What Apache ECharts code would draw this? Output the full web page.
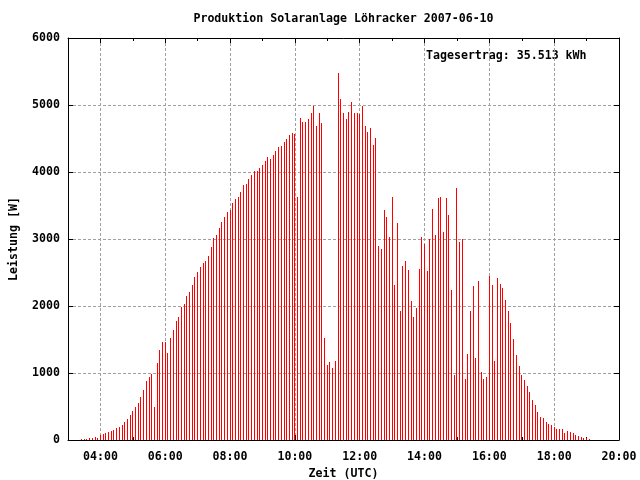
<!DOCTYPE html>
<html>
<head>
<meta charset="utf-8">
<script src="https://cdn.jsdelivr.net/npm/echarts@6/dist/echarts.min.js"></script>
<style>html,body{margin:0;padding:0;background:#fff}#c{width:640px;height:480px}</style>
</head>
<body>
<div id="c"></div>
<script>
const times = [
"03:25","03:30","03:35","03:40","03:45","03:50","03:55",
"04:00","04:05","04:10","04:15","04:20","04:25","04:30","04:35","04:40","04:45","04:50","04:55",
"05:00","05:05","05:10","05:15","05:20","05:25","05:30","05:35","05:40","05:45","05:50","05:55",
"06:00","06:05","06:10","06:15","06:20","06:25","06:30","06:35","06:40","06:45","06:50","06:55",
"07:00","07:05","07:10","07:15","07:20","07:25","07:30","07:35","07:40","07:45","07:50","07:55",
"08:00","08:05","08:10","08:15","08:20","08:25","08:30","08:35","08:40","08:45","08:50","08:55",
"09:00","09:05","09:10","09:15","09:20","09:25","09:30","09:35","09:40","09:45","09:50","09:55",
"10:00","10:05","10:10","10:15","10:20","10:25","10:30","10:35","10:40","10:45","10:50","10:55",
"11:00","11:05","11:10","11:15","11:20","11:25","11:30","11:35","11:40","11:45","11:50","11:55",
"12:00","12:05","12:10","12:15","12:20","12:25","12:30","12:35","12:40","12:45","12:50","12:55",
"13:00","13:05","13:10","13:15","13:20","13:25","13:30","13:35","13:40","13:45","13:50","13:55",
"14:00","14:05","14:10","14:15","14:20","14:25","14:30","14:35","14:40","14:45","14:50","14:55",
"15:00","15:05","15:10","15:15","15:20","15:25","15:30","15:35","15:40","15:45","15:50","15:55",
"16:00","16:01","16:05","16:10","16:15","16:20","16:25","16:30","16:35","16:40","16:45","16:50","16:55",
"17:00","17:05","17:10","17:15","17:20","17:25","17:30","17:35","17:40","17:45","17:50","17:55",
"18:00","18:05","18:10","18:15","18:20","18:25","18:30","18:35","18:40","18:45","18:50","18:55",
"19:00","19:05"
];
const leistung = [
15,15,15,30,35,50,30,
70,90,105,120,135,150,180,195,225,270,315,375,
435,495,555,640,750,880,940,985,497,1154,1343,1463,
1463,1298,1522,1642,1776,1841,1990,2030,2154,2209,2313,2433,
2507,2582,2642,2672,2746,2881,3010,3060,3164,3259,3328,3403,
3433,3537,3597,3627,3701,3806,3821,3895,3955,4015,4015,4060,
4104,4164,4224,4194,4254,4313,4373,4388,4448,4492,4552,4582,
4567,3627,4806,4746,4746,4791,4880,4985,4687,4880,4731,1522,
1119,1164,1075,1179,5478,5090,4880,4791,4895,5045,4880,4880,
4870,4990,4687,4597,4657,4403,4510,2895,2851,3433,3328,3030,
3627,2313,3239,1925,2597,2672,2537,2075,1836,1970,2552,3030,
2925,2522,3000,3448,3060,3612,3627,3104,3612,3358,2239,970,
3761,2955,2995,910,1284,1925,2298,1224,2373,1015,910,940,
925,2448,2313,1179,2418,2328,2269,2090,1925,1746,1507,1269,1104,
970,900,810,720,600,525,420,345,330,270,240,225,
195,165,165,165,105,135,120,105,75,60,45,30,
30,15
];
const majorTicks = ["04:00","06:00","08:00","10:00","12:00","14:00","16:00","18:00","20:00"];
const minorTicks = ["03:00","05:00","07:00","09:00","11:00","13:00","15:00","17:00","19:00"];
const xRange = ["03:00","20:00"];
const yTicks = [0,1000,2000,3000,4000,5000,6000];
const titleText = "Produktion Solaranlage Löhracker 2007-06-10";
const ertragText = "Tagesertrag: 35.513 kWh";

function toMin(s){const p=s.split(':');return (+p[0])*60+(+p[1]);}
function fmt(m){const h=Math.floor(m/60),mm=m%60;return (h<10?'0':'')+h+':'+(mm<10?'0':'')+mm;}

const FONT = 'DejaVu Sans Mono';
const FS = 11.6;
const xMin = toMin(xRange[0]), xMax = toMin(xRange[1]);
const majorVals = majorTicks.map(toMin);
const minorVals = minorTicks.map(toMin);
const data = times.map((t,i)=>[toMin(t), leistung[i]]);

function xAx(pos, vals, len, labels, split, line){
  return {
    type:'value', position:pos, min:xMin, max:xMax,
    axisLine:{show:line, lineStyle:{color:'#000', width:1}},
    axisTick:{show:true, inside:true, length:len, customValues:vals, lineStyle:{color:'#000'}},
    axisLabel:{show:labels, customValues:vals, formatter:v=>fmt(v), color:'#000',
      fontFamily:FONT, fontWeight:'bold', fontSize:FS, margin:11},
    splitLine:{show:split, lineStyle:{color:'#a0a0a0', type:[3,2], width:1}},
    minorTick:{show:false}
  };
}
const chart = echarts.init(document.getElementById('c'), null, {renderer:'canvas'});
const xAxes = [
  xAx('bottom', majorVals, 5, true, true, true),
  xAx('bottom', minorVals, 3, false, false, false),
  xAx('top', majorVals, 5, false, false, true),
  xAx('top', minorVals, 3, false, false, false)
];
xAxes[0].name = 'Zeit (UTC)';
xAxes[0].nameLocation = 'middle';
xAxes[0].nameGap = 26;
xAxes[0].nameTextStyle = {fontFamily:FONT, fontWeight:'bold', fontSize:FS, color:'#000'};

chart.setOption({
  animation:false,
  backgroundColor:'#fff',
  grid:{left:68, top:38, width:551, height:402, containLabel:false, outerBoundsMode:'none'},
  xAxis: xAxes,
  yAxis:[
    {type:'value', position:'left', min:yTicks[0], max:yTicks[yTicks.length-1], interval:1000,
     name:'Leistung [W]', nameLocation:'middle', nameGap:48, nameRotate:90,
     nameTextStyle:{fontFamily:FONT, fontWeight:'bold', fontSize:FS, color:'#000'},
     axisLine:{show:true, lineStyle:{color:'#000'}},
     axisTick:{show:true, inside:true, length:5, lineStyle:{color:'#000'}},
     axisLabel:{color:'#000', fontFamily:FONT, fontWeight:'bold', fontSize:FS, margin:8, formatter:v=>String(v)},
     splitLine:{show:true, lineStyle:{color:'#a0a0a0', type:[3,2], width:1}}},
    {type:'value', position:'right', min:yTicks[0], max:yTicks[yTicks.length-1], interval:1000,
     axisLine:{show:true, lineStyle:{color:'#000'}},
     axisTick:{show:true, inside:true, length:5, lineStyle:{color:'#000'}},
     axisLabel:{show:false}, splitLine:{show:false}}
  ],
  graphic:[
    {type:'text', x:343.5, y:19, style:{text:titleText, fill:'#000', font:'bold '+FS+'px '+FONT, textAlign:'center', textVerticalAlign:'middle'}},
    {type:'text', x:426, y:56, style:{text:ertragText, fill:'#000', font:'bold '+FS+'px '+FONT, textAlign:'left', textVerticalAlign:'middle'}}
  ],
  series:[{
    type:'custom', name:'Leistung', xAxisIndex:0, yAxisIndex:0, data:data,
    renderItem:function(params, api){
      const top = api.coord([api.value(0), api.value(1)]);
      const base = api.coord([api.value(0), 0]);
      const x = Math.floor(top[0]);
      const y0 = Math.round(top[1]);
      const y1 = Math.round(base[1]);
      return {type:'rect', shape:{x:x, y:y0, width:1, height:y1-y0}, style:{fill:'#ff0000'}};
    }
  }]
});
</script>
</body>
</html>
